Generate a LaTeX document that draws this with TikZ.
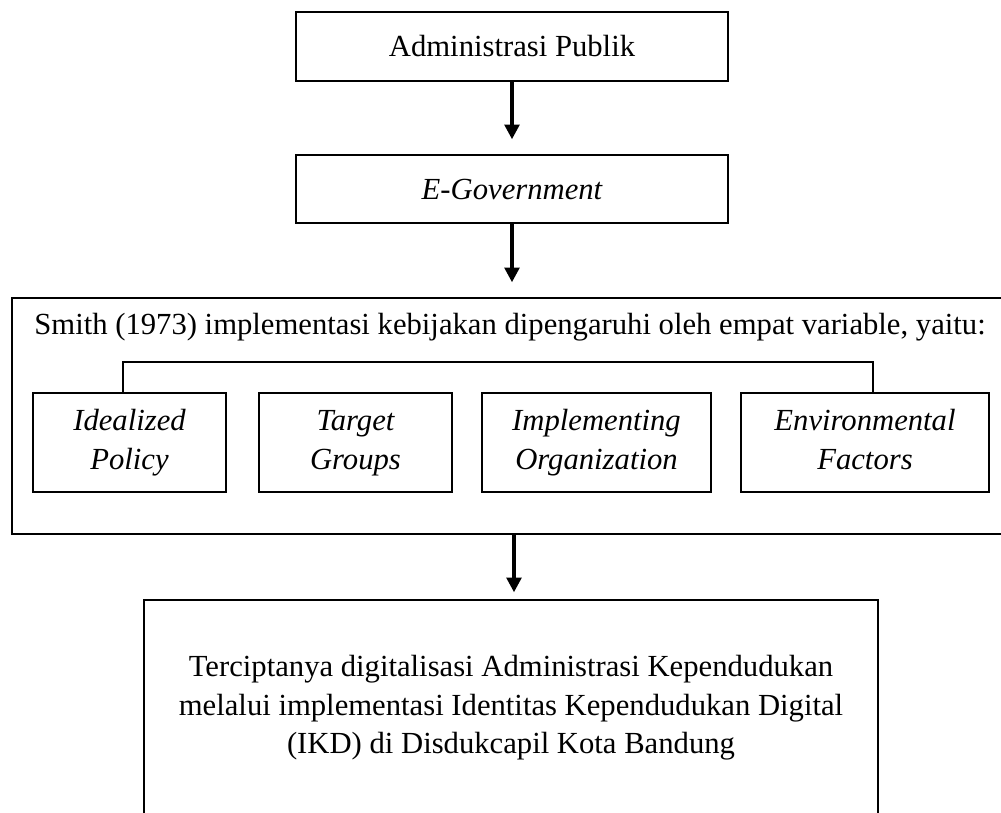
\documentclass[tikz,border=0pt]{standalone}
\usepackage{fontspec}
\setmainfont{Liberation Serif}
\usetikzlibrary{arrows.meta}
\begin{document}
\begin{tikzpicture}[x=0.75pt,y=-0.75pt,
  box/.style={draw,line width=1.6pt,inner sep=0pt,align=center},
  sub/.style={box,minimum height=74.25pt,font=\fontsize{23}{29}\selectfont\itshape},
  txt/.style={inner sep=0pt,align=center,font=\fontsize{23}{29}\selectfont},
  arr/.style={line width=2.6pt,-{Triangle[width=11pt,length=11pt]}},
  brk/.style={line width=1.8pt}]
\useasboundingbox (0,0) rectangle (1001,813);
\clip (0,0) rectangle (1001,813);
\fill[white] (0,0) rectangle (1001,813);
% top boxes
\node[box,minimum width=324pt,minimum height=51.75pt,font=\fontsize{23}{29}\selectfont] (adm) at (512,46.5) {Administrasi Publik};
\node[box,minimum width=324pt,minimum height=51pt,font=\fontsize{23}{29}\selectfont\itshape] (egov) at (512,189) {E-Government};
% big box
\node[box,minimum width=748.5pt,minimum height=177pt] (big) at (511,416) {};
\node[txt] (smith) at (510,327) {Smith (1973) implementasi kebijakan dipengaruhi oleh empat variable, yaitu:};
% sub boxes
\node[sub,minimum width=144.75pt] (b1) at (129.5,442.5) {\strut Idealized\\\strut Policy};
\node[sub,minimum width=144.75pt] (b2) at (355.5,442.5) {\strut Target\\\strut Groups};
\node[sub,minimum width=171.75pt] (b3) at (596.5,442.5) {\strut Implementing\\\strut Organization};
\node[sub,minimum width=186pt] (b4) at (865,442.5) {\strut Environmental\\\strut Factors};
% bracket
\draw[brk] ([xshift=-4.9pt]b1.north) -- ++(0,-30) -| ([xshift=6pt]b4.north);
% bottom box
\node[box,minimum width=550.5pt,minimum height=172.5pt] (bot) at (511,715) {};
\node[txt] (res) at (511,708) {Terciptanya digitalisasi Administrasi Kependudukan\\melalui implementasi Identitas Kependudukan Digital\\(IKD) di Disdukcapil Kota Bandung};
% arrows
\draw[arr,shorten >=11pt] (adm.south) -- (egov.north);
\draw[arr,shorten >=11pt] (egov.south) -- (egov.south |- big.north);
\draw[arr,shorten >=5pt] ([xshift=2.25pt]big.south) -- ([xshift=2.25pt]big.south |- bot.north);
\end{tikzpicture}
\end{document}
